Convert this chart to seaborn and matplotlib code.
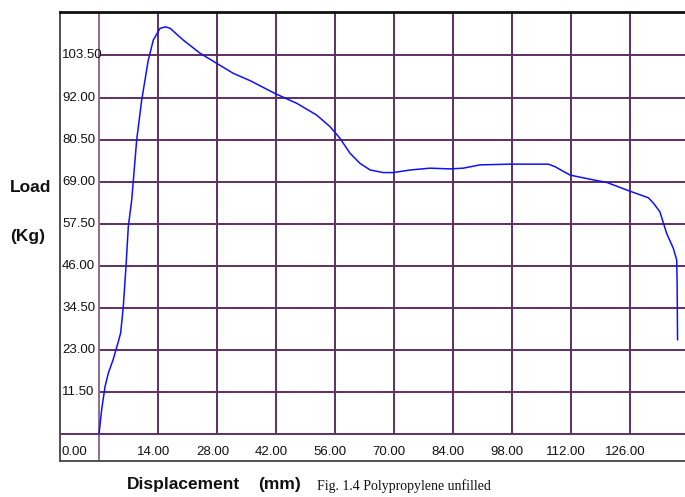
import matplotlib
matplotlib.use("Agg")
import matplotlib.pyplot as plt
import matplotlib.transforms as mtransforms
import seaborn as sns
import pandas as pd

# Load-displacement record for unfilled polypropylene
displacement_mm = [0, 0.64, 1.43, 2.21, 3.33, 4.51, 5.15, 5.77, 6.41, 6.96, 7.77,
                   8.95, 10.14, 11.7, 12.9, 14.5, 15.8, 16.9, 20.0, 24.0, 28.0,
                   31.9, 35.9, 41.8, 47.0, 51.7, 54.9, 57.2, 59.6, 62.0, 64.4,
                   67.5, 69.9, 73.9, 78.6, 83.4, 86.5, 90.5, 97.6, 106.7, 108.3,
                   111.9, 117.4, 120.6, 125.9, 130.5, 131.7, 133.2, 134.8, 136.4,
                   137.2, 137.3, 137.4]
load_kg = [0, 6.8, 13.0, 16.7, 20.3, 25.0, 27.7, 34.9, 45.8, 56.7, 64.0,
           80.4, 91.3, 102.2, 107.7, 110.9, 111.3, 110.9, 107.7, 104.1, 101.3,
           98.6, 96.6, 93.1, 90.4, 87.2, 84.0, 80.9, 76.8, 74.0, 72.2,
           71.5, 71.5, 72.2, 72.7, 72.5, 72.7, 73.6, 73.8, 73.8, 73.1,
           70.8, 69.5, 68.8, 66.5, 64.6, 63.1, 60.8, 54.9, 50.8,
           47.6, 41.2, 25.8]

x_ticks = [0, 14, 28, 42, 56, 70, 84, 98, 112, 126]
x_tick_labels = ["0.00", "14.00", "28.00", "42.00", "56.00", "70.00",
                 "84.00", "98.00", "112.00", "126.00"]
y_ticks = [0, 11.5, 23, 34.5, 46, 57.5, 69, 80.5, 92, 103.5, 115]
y_tick_labels = ["11.50", "23.00", "34.50", "46.00", "57.50", "69.00",
                 "80.50", "92.00", "103.50"]

df = pd.DataFrame({"Displacement": displacement_mm, "Load": load_kg})

sns.set_style("white")
plt.rcParams["font.family"] = ["Liberation Sans", "DejaVu Sans"]

fig = plt.figure(figsize=(6.85, 4.97), dpi=100)
ax = fig.add_axes([60 / 685, 1 - 461 / 497, 1 - 60 / 685, (461 - 12) / 497])

x_min, x_max = -9.26, 139.17
y_min, y_max = -7.29, 115.36
ax.set_xlim(x_min, x_max)
ax.set_ylim(y_min, y_max)

grid_c = "#5e2f62"
axis_c = "#8e6b8e"
# Horizontal grid (the zero line runs across to the frame)
ax.hlines([v for v in y_ticks[1:-1]], 0, x_max, colors=grid_c, lw=1.4, zorder=1)
ax.hlines([0], x_min, x_max, colors=grid_c, lw=1.4, zorder=1)
# Vertical grid (the zero line runs down to the frame)
ax.vlines(x_ticks[1:], 0, y_max, colors=grid_c, lw=1.4, zorder=1)
ax.vlines([0], y_min, y_max, colors=axis_c, lw=1.4, zorder=1)

sns.lineplot(data=df, x="Displacement", y="Load", ax=ax, sort=False,
             estimator=None, color="#1010ff", lw=1.1, zorder=3)

ax.set_xticks([])
ax.set_yticks([])
ax.set_xlabel("")
ax.set_ylabel("")

for side in ["left", "bottom"]:
    ax.spines[side].set_color("#505050")
    ax.spines[side].set_linewidth(1.4)
ax.spines["top"].set_color("#111111")
ax.spines["top"].set_linewidth(2.0)
ax.spines["right"].set_visible(False)

# Y tick labels inside the frame
ytrans = mtransforms.blended_transform_factory(ax.transAxes, ax.transData)
for val, lab in zip(y_ticks[1:-1], y_tick_labels):
    ax.annotate(lab, xy=(0, val), xycoords=ytrans, xytext=(2, 0),
                textcoords="offset pixels", ha="left", va="center",
                fontsize=9.5, color="#111111")

# X tick labels in the strip below the zero line
label_y = -4.8
ax.annotate(x_tick_labels[0], xy=(0, label_y), xycoords=ytrans,
            xytext=(2, 0), textcoords="offset pixels", ha="left", va="center",
            fontsize=9.5, color="#111111")
for val, lab in zip(x_ticks[1:], x_tick_labels[1:]):
    ax.annotate(lab, xy=(val, label_y), xycoords="data", xytext=(-4.5, 0),
                textcoords="offset pixels", ha="center", va="center",
                fontsize=9.5, color="#111111")

# Axis titles
fig.text(10 / 685, 1 - 187 / 497, "Load", ha="left", va="center",
         fontsize=12.5, fontweight="bold", color="#111111")
fig.text(10 / 685, 1 - 236 / 497, "(Kg)", ha="left", va="center",
         fontsize=12.5, fontweight="bold", color="#111111")
fig.text(127 / 685, 1 - 489 / 497, "Displacement", ha="left", va="baseline",
         fontsize=12.5, fontweight="bold", color="#111111")
fig.text(258 / 685, 1 - 489 / 497, "(mm)", ha="left", va="baseline",
         fontsize=12.5, fontweight="bold", color="#111111")
fig.text(317 / 685, 1 - 490 / 497, "Fig. 1.4 Polypropylene unfilled",
         ha="left", va="baseline", fontsize=10, color="#111111",
         family=["Liberation Serif", "DejaVu Serif"])

fig.savefig("out.png", dpi=100)
